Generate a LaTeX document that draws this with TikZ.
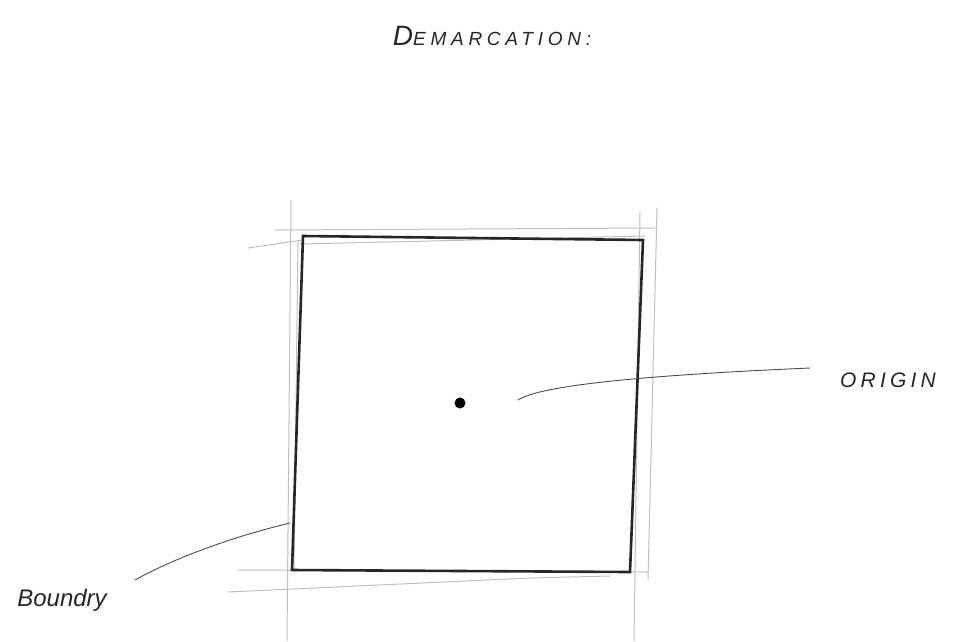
\documentclass[tikz,border=0pt]{standalone}
\usepackage{fontspec}
\setmainfont{Liberation Sans}
\begin{document}
\begin{tikzpicture}[x=1pt,y=-1pt,
  sketch/.style={draw=black!25, line width=1pt, line cap=round},
  edge/.style={draw=black!85, line width=2.6pt, line cap=round},
  leader/.style={draw=black!70, line width=0.9pt, line cap=round},
  lbl/.style={font=\fontsize{22}{24}\selectfont, text=black!85, inner sep=0pt}]
\useasboundingbox (0,0) rectangle (955,641);
% construction lines
\draw[sketch] (291,200) -- (287,641);
\draw[sketch] (248,248) -- (303,240);
\draw[sketch] (275,230) -- (655,228);
\draw[sketch] (300,244) -- (645,236);
\draw[sketch] (238,570) -- (648,572);
\draw[sketch] (228,592) -- (530,578) -- (610,576);
\draw[sketch] (640,212) -- (634,641);
\draw[sketch] (657,208) -- (648,580);
\draw[sketch] (298,240) -- (294,572);
% corners
\coordinate (tl) at (303,236);
\coordinate (tr) at (643,240);
\coordinate (br) at (630,572);
\coordinate (bl) at (292,570);
\draw[edge] (tl) -- (tr) -- (br) -- (bl) -- cycle;
% origin dot
\node (dot) [circle, fill=black, inner sep=0pt, minimum size=11pt] at (460,403) {};
% labels
\node (title) [lbl, font=\itshape\addfontfeatures{LetterSpace=25}] at (492,36) {{\fontsize{28}{30}\selectfont D}{\fontsize{19}{22}\selectfont EMARCATION:}};
\node (origin) [lbl, font=\itshape\fontsize{21}{24}\selectfont\addfontfeatures{LetterSpace=20}] at (888,380) {ORIGIN};
\node (boundary) [lbl, font=\itshape\fontsize{24}{26}\selectfont] at (62,600) {Boundry};
% leaders
\coordinate (oa) at (518,400);
\coordinate (ob) at (810,368);
\draw[leader] (oa) .. controls (540,385) and (650,375) .. (ob);
\coordinate (ba) at (135,580);
\coordinate (bb) at (290,523);
\draw[leader] (ba) .. controls (180,555) and (240,535) .. (bb);
\end{tikzpicture}
\end{document}
